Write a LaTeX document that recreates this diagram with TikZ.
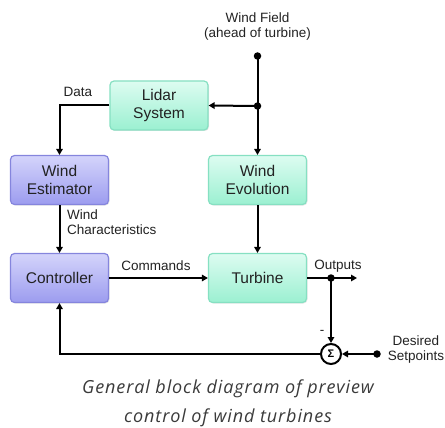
\documentclass[tikz,border=0pt]{standalone}
\usepackage{fontspec}
\setmainfont{Liberation Sans}
\newfontfamily\capfont[LetterSpace=5]{Open Sans}
\usetikzlibrary{arrows.meta,shadows}
\definecolor{gtop}{HTML}{DDFCF1}
\definecolor{gbot}{HTML}{9BF0D1}
\definecolor{gline}{HTML}{86E0C2}
\definecolor{ptop}{HTML}{D4D4FB}
\definecolor{pbot}{HTML}{9C9CEF}
\definecolor{pline}{HTML}{8585DD}
\definecolor{txt}{HTML}{222222}
\definecolor{captxt}{HTML}{3A3A3A}
\begin{document}
\begin{tikzpicture}[x=1pt,y=-1pt,
  box/.style={rounded corners=4pt, minimum width=98pt, minimum height=49pt, align=center,
    font=\fontsize{15.5}{17.5}\selectfont, text=txt, line width=1.2pt,
    drop shadow={shadow xshift=1pt, shadow yshift=-1pt, opacity=0.2}},
  greenbox/.style={box, draw=gline, top color=gtop, bottom color=gbot},
  purplebox/.style={box, draw=pline, top color=ptop, bottom color=pbot},
  lbl/.style={font=\fontsize{13.5}{15}\selectfont, text=txt, inner sep=0pt},
  caption/.style={font=\capfont\itshape\fontsize{18}{20}\selectfont, text=captxt, inner sep=0pt, anchor=base},
  conn/.style={line width=2pt, -{Triangle[length=6pt,width=6.5pt]}},
  dot/.style={circle, fill=black, inner sep=0pt, minimum size=7.5pt}]
\useasboundingbox (0,0) rectangle (445,428);
\node[greenbox] (lidar) at (159,105.5) {Lidar\\System};
\node[purplebox] (est) at (59.5,180) {Wind\\Estimator};
\node[greenbox] (evo) at (257.5,180) {Wind\\Evolution};
\node[purplebox] (ctrl) at (59.5,278) {Controller};
\node[greenbox] (turb) at (257.5,278) {Turbine};
\node[circle, draw, line width=2pt, minimum size=20pt, inner sep=0pt, fill=white,
  font=\bfseries\fontsize{11}{11}\selectfont] (sig) at (331,354) {Σ};
\node[dot] (wf) at (257.5,56) {};
\node[dot] (j1) at (257.5,106) {};
\node[dot] (oj) at (331,278) {};
\node[dot] (ds) at (377,354) {};
\coordinate (oe) at (357,278);
\draw[conn] (wf.center) -- (evo.north);
\draw[conn] (j1.center) -- (lidar.east);
\draw[conn] (lidar.west) -| (est.north);
\draw[conn] (est.south) -- (ctrl.north);
\draw[conn] (evo.south) -- (turb.north);
\draw[conn] (ctrl.east) -- (turb.west);
\draw[conn] (turb.east) -- (oe);
\draw[conn] (oj.center) -- (sig.north);
\draw[conn] (ds.center) -- (sig.east);
\draw[conn] (sig.west) -| (ctrl.south);
\node[lbl, align=center] (wfl) at (257.5,27) {Wind Field\\(ahead of turbine)};
\node[lbl] (datal) at (78,92) {Data};
\node[lbl, align=left, anchor=north west] (wcl) at (67,210) {Wind\\Characteristics};
\node[lbl] (cmdl) at (156,266) {Commands};
\node[lbl] (outl) at (338,266) {Outputs};
\node[lbl] (minus) at (322,332) {-};
\node[lbl, align=center] (dsl) at (416,350) {Desired\\Setpoints};
\node[caption] (cap1) at (228,393) {General block diagram of preview};
\node[caption] (cap2) at (228,422) {control of wind turbines};
\end{tikzpicture}
\end{document}
